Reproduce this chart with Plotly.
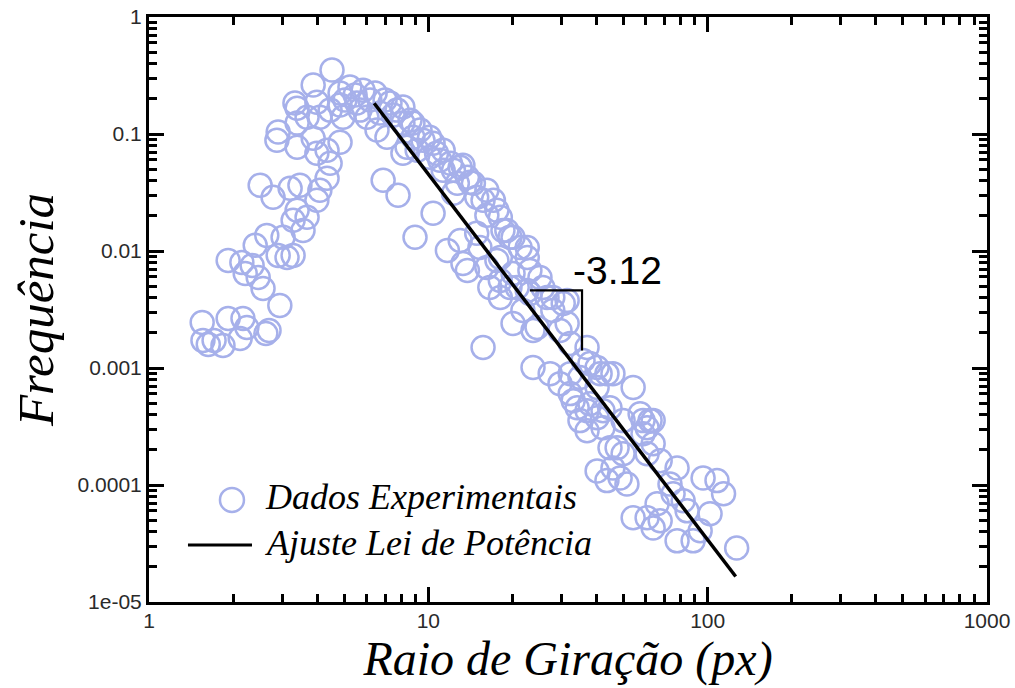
import numpy as np
import plotly.graph_objects as go

# ---- data (x: Raio de Giração, y: Frequência) ----
raio = [1.55, 1.56, 1.63, 1.84, 1.92, 2.17, 2.24, 2.12, 2.62, 2.69, 2.94, 1.71,
        1.92, 2.15, 2.34, 2.21, 2.46, 2.56, 2.90, 3.12, 3.28, 2.64, 3.02, 3.56, 2.40,
        2.50, 2.78, 3.20, 3.47, 4.09, 3.99, 3.39, 3.68, 3.28, 4.45, 4.34,
        2.90, 2.87, 3.39, 3.87, 3.99, 4.34, 4.83, 3.33, 3.87, 4.52, 3.39, 3.68, 3.39, 4.09,
        3.99, 4.83, 5.24, 5.84, 5.55, 6.18, 4.45, 4.95, 6.03, 6.71, 7.29, 7.73, 6.55, 7.11,
        8.11, 8.81, 9.12, 8.11, 5.03, 5.47, 6.45, 7.00, 5.69, 4.83,
        6.89, 7.79, 8.96,
        8.11, 8.81, 9.34, 10.4, 8.39, 12.0, 10.1, 11.3, 14.1, 12.7, 12.3, 14.9, 17.1, 17.6,
        10.4, 11.7, 13.0, 14.9, 15.3, 19.1, 19.6, 22.6, 18.1, 13.8, 16.2, 18.1, 20.1, 19.6,
        22.6, 25.7, 27.9, 16.6, 18.1, 20.8, 23.1, 26.6, 30.4, 27.9, 20.1, 24.5, 21.8, 15.7,
        23.7, 27.3, 29.6, 32.2, 32.2, 37.0, 35.8, 40.2, 45.8, 34.9, 40.2, 54.1, 37.9, 44.7,
        34.1, 34.9, 40.2, 49.8, 57.3, 62.2, 60.7, 44.7, 49.8, 60.7,
        32.2, 41.2, 33.0, 37.0, 42.2, 37.0, 42.2, 58.7, 63.8, 58.7, 47.4, 40.2, 45.8, 48.6,
        51.4, 43.6, 67.6, 77.7, 73.3, 75.2, 81.7, 96.3, 114, 108, 102, 54.1, 60.7, 63.8,
        67.6, 77.7, 88.7, 94.0, 127, 65.9, 84.4,
        10.1, 11.3, 12.3, 14.5, 15.7, 18.1, 20.1, 22.6, 25.1, 11.0, 13.0, 13.8, 18.5, 21.3,
        23.1, 31.4, 13.3, 17.6, 8.60, 7.48, 9.57, 10.7, 13.3, 16.2, 16.2,
        23.7, 29.6, 31.4, 37.9, 43.6, 63.8]

freq = [0.00245, 0.00172, 0.00159, 0.00156, 0.00265, 0.00265, 0.00222, 0.00179, 0.00197,
        0.00209, 0.00342, 0.00172,
        0.00831, 0.00798, 0.00753, 0.00643, 0.00594, 0.00479, 0.00917, 0.00881, 0.00917,
        0.0136, 0.0131, 0.0150, 0.0112,
        0.0365, 0.0288, 0.0344, 0.0365, 0.0330, 0.0271, 0.0223, 0.0194, 0.0183, 0.0562, 0.0419,
        0.104, 0.0885, 0.0771, 0.0921, 0.0685, 0.0727, 0.0851, 0.184, 0.262, 0.352, 0.166,
        0.139, 0.124, 0.139,
        0.187, 0.224, 0.252, 0.237, 0.184, 0.195, 0.160, 0.139, 0.139, 0.151, 0.184, 0.160,
        0.108, 0.0939, 0.124, 0.0939, 0.0727, 0.0685, 0.195, 0.215, 0.224, 0.195, 0.160, 0.177,
        0.0402, 0.0299, 0.0131,
        0.170, 0.124, 0.108, 0.0834, 0.0771, 0.0562, 0.0633, 0.0490, 0.0387, 0.0379, 0.0311,
        0.0288, 0.0271, 0.0223, 0.0210, 0.0101, 0.0123, 0.0142, 0.0107, 0.0150, 0.0131,
        0.0107, 0.00881, 0.00682, 0.00724, 0.00560, 0.00643, 0.00488, 0.00460, 0.00488,
        0.00401, 0.00488, 0.00401, 0.00488, 0.00434, 0.00401, 0.00356, 0.00310, 0.00240,
        0.00222, 0.00310, 0.00150, 0.00101, 0.000895, 0.000735, 0.000604, 0.00162, 0.00150,
        0.00116, 0.00101, 0.000895, 0.000828, 0.000680, 0.000680, 0.000496, 0.000458,
        0.000458, 0.000355, 0.000376, 0.000355, 0.000407, 0.000355, 0.000309, 0.000208,
        0.000185, 0.000185,
        0.000895, 0.000895, 0.000526, 0.000432, 0.000432, 0.000291, 0.000309, 0.000355,
        0.000355, 0.000274, 0.000208, 0.000132, 0.000140, 0.000115, 0.000102, 0.000109,
        0.000161, 0.000140, 0.000102, 0.0000841, 0.0000733, 0.000115, 0.0000841, 0.000109,
        0.0000567, 0.0000524, 0.0000524, 0.0000430, 0.0000494, 0.0000333, 0.0000333,
        0.0000406, 0.0000290, 0.0000690, 0.0000601,
        0.0939, 0.0727, 0.0490, 0.0379, 0.0271, 0.0194, 0.0131, 0.00881, 0.00594, 0.0597,
        0.0520, 0.0427, 0.0150, 0.0107, 0.00682, 0.00378, 0.00783, 0.00831, 0.131, 0.145,
        0.0885, 0.0685, 0.0541, 0.0330, 0.0202,
        0.00209, 0.00209, 0.00240, 0.00109, 0.000895, 0.000225]

# power-law fit (slope -3.12) endpoints
fit_x = [6.4, 126.0]
fit_y = [0.183, 1.65e-5]

# slope bracket and its label
bracket_x = [23.1, 35.5, 35.5]
bracket_y = [0.0046, 0.0046, 0.00141]
slope_label = "-3.12"
slope_label_x = 32.4
slope_label_y = 0.0068

x_tickvals = [1, 10, 100, 1000]
x_ticktext = ["1", "10", "100", "1000"]
y_tickvals = [1, 0.1, 0.01, 0.001, 0.0001, 0.00001]
y_ticktext = ["1", "0.1", "0.01", "0.001", "0.0001", "1e-05"]

series_names = ["Dados Experimentais", "Ajuste Lei de Potência"]
x_title = "Raio de Giração (px)"
y_title = "Frequência"

MARKER = "rgb(166,176,234)"
SERIF = "Liberation Serif, Times New Roman, serif"
SANS = "Liberation Sans, Arial, sans-serif"

x_minor = [m * 10 ** k for k in range(0, 3) for m in range(2, 10)]
y_minor = [m * 10.0 ** k for k in range(-5, 0) for m in range(2, 10)]

fig = go.Figure()
fig.add_trace(go.Scatter(
    x=raio, y=freq, mode="markers", name=series_names[0], showlegend=False,
    marker=dict(symbol="circle-open", size=23, color=MARKER, line=dict(width=2.5, color=MARKER)),
))
fig.add_trace(go.Scatter(
    x=fit_x, y=fit_y, mode="lines", name=series_names[1], showlegend=False,
    line=dict(color="black", width=3.5),
))
fig.add_trace(go.Scatter(
    x=bracket_x, y=bracket_y, mode="lines", showlegend=False, hoverinfo="skip",
    line=dict(color="black", width=2.2),
))

axis_common = dict(
    type="log", showgrid=False, zeroline=False,
    showline=True, linewidth=3, linecolor="black", mirror="allticks",
    ticks="inside", ticklen=15, tickwidth=3, tickcolor="black",
    tickmode="array",
    tickfont=dict(family=SANS, size=21, color="#2a2a2a"),
    automargin=False,
)

fig.update_layout(
    width=1015, height=688,
    margin=dict(l=149, r=28, t=17, b=86),
    paper_bgcolor="white", plot_bgcolor="white",
    showlegend=False,
    xaxis=dict(
        axis_common, range=[0, 3], tickvals=x_tickvals, ticktext=x_ticktext,
        ticklabelstandoff=-2,
        minor=dict(tickmode="array", tickvals=x_minor, ticks="inside", ticklen=8,
                   tickwidth=2.5, tickcolor="black", showgrid=False),
        title=dict(text=x_title, font=dict(family=SERIF, size=48, style="italic", color="black"),
                   standoff=10),
    ),
    yaxis=dict(
        axis_common, range=[-5, 0], tickvals=y_tickvals, ticktext=y_ticktext,
        minor=dict(tickmode="array", tickvals=y_minor, ticks="inside", ticklen=8,
                   tickwidth=2.5, tickcolor="black", showgrid=False),
        title=dict(text=y_title, font=dict(family=SERIF, size=51, style="italic", color="black"),
                   standoff=8),
    ),
)

# slope label
fig.add_annotation(
    x=np.log10(slope_label_x), y=np.log10(slope_label_y), xref="x", yref="y",
    text=slope_label, showarrow=False, xanchor="left", yanchor="middle",
    font=dict(family=SANS, size=39, color="black"),
)

# legend (drawn inside the plot, lower left)
fig.add_shape(type="circle", xref="paper", yref="paper",
              xsizemode="pixel", ysizemode="pixel",
              xanchor=0.099, yanchor=0.1744, x0=-12, x1=12, y0=-12, y1=12,
              line=dict(color=MARKER, width=2.5))
fig.add_shape(type="line", xref="paper", yref="paper",
              x0=0.0465, x1=0.1229, y0=0.0974, y1=0.0974,
              line=dict(color="black", width=3))
fig.add_annotation(x=0.136, y=0.1795, xref="paper", yref="paper", text=series_names[0],
                   showarrow=False, xanchor="left", yanchor="middle",
                   font=dict(family=SERIF, size=36, style="italic", color="black"))
fig.add_annotation(x=0.136, y=0.1009, xref="paper", yref="paper", text=series_names[1],
                   showarrow=False, xanchor="left", yanchor="middle",
                   font=dict(family=SERIF, size=36, style="italic", color="black"))

fig.write_html("out.html")
